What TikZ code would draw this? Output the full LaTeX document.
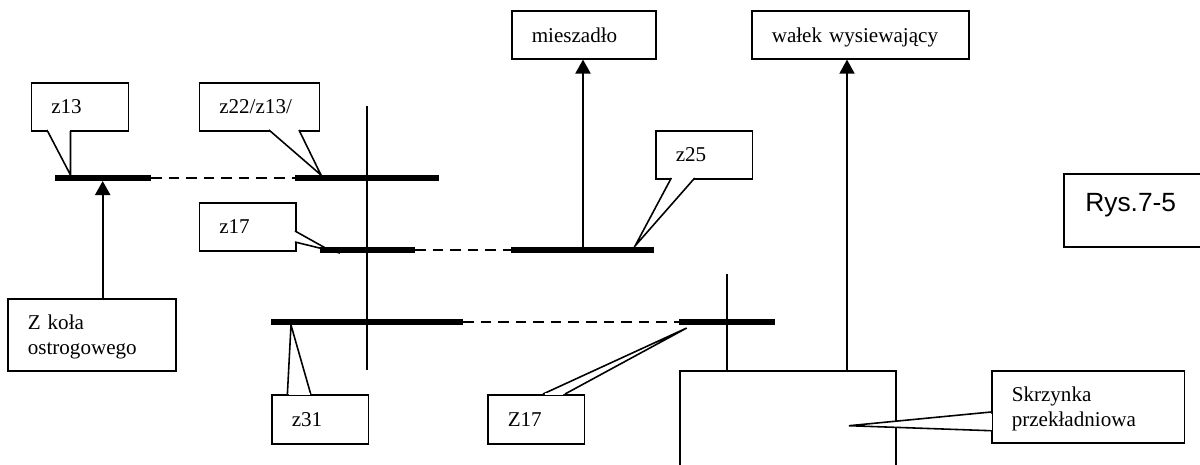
\documentclass[tikz,border=0pt]{standalone}
\usepackage{fontspec}
\usetikzlibrary{arrows.meta,positioning}
\setmainfont{Liberation Serif}
\newfontfamily\rysfont{Liberation Sans}

\tikzset{
	box/.style 2 args={draw, line width=0.9pt, anchor=north west, align=left, inner ysep=0pt, inner xsep=20*0.02cm,
		text width=(#1-40)*0.02cm, minimum height=#2*0.02cm, text depth=0pt, font=\fontsize{12}{14.2}\selectfont},
	wedge/.style={draw, fill=white, line width=0.9pt, line join=miter},
	opening/.style={white, line width=1.2pt},
	gear/.style={line width=3.6pt},
	shaft/.style={line width=0.9pt},
	link/.style={line width=0.9pt, dash pattern=on 6pt off 4pt},
	drive/.style={line width=1.2pt, -{Triangle[length=14*0.02cm, width=15*0.02cm]}},
}

\begin{document}
\begin{tikzpicture}[x=0.02cm, y=-0.02cm]
	\clip (0,0) rectangle (1200,464);

	% boxes
	\node[box={97}{48}] (z13) at (30.5,82) {z13};
	\node[box={120}{48}] (z22) at (198.5,82) {z22/z13/};
	\node[box={96.5}{48}] (z17) at (198.5,202) {z17};
	\node[box={96.5}{48}] (z25) at (655,130) {z25};
	\node[box={96.5}{49}] (z31) at (271,394) {z31};
	\node[box={96.5}{49}] (Z17) at (487,394) {Z17};
	\node[box={168}{72}, text depth=14.2pt] (zkola) at (7,298) {Z koła\\ostrogowego};
	\node[box={144}{48}] (mieszadlo) at (511,10) {mieszadło};
	\node[box={217}{48}] (walek) at (751,10) {wałek wysiewający};
	\node[box={192.5}{72}, text depth=14.2pt] (skrzynka) at (991,370) {Skrzynka\\przekładniowa};
	\node[box={160}{73}, inner xsep=21.5*0.02cm, text depth=9.2pt, font=\rysfont\fontsize{15}{16}\selectfont] (rys) at (1063,173) {Rys.7-5};
	\node[draw, line width=0.9pt, anchor=north west, inner sep=0pt, minimum width=216*0.02cm, minimum height=120*0.02cm] (przekladnia) at (679,370) {};

	% gear ends
	\coordinate (g1a) at (55,178);  \coordinate (g1b) at (151,178);
	\coordinate (g2a) at (295,178); \coordinate (g2b) at (439,178);
	\coordinate (g3a) at (319.5,250); \coordinate (g3b) at (415,250);
	\coordinate (g4a) at (511,250); \coordinate (g4b) at (654,250);
	\coordinate (g5a) at (271,322); \coordinate (g5b) at (463,322);
	\coordinate (g6a) at (679,322); \coordinate (g6b) at (775,322);

	\draw[link] (g1b) -- (g2a);
	\draw[link] (g3b) -- (g4a);
	\draw[link] (g5b) -- (g6a);

	% shafts
	\coordinate (s1a) at (367,106); \coordinate (s1b) at (367,370);
	\coordinate (s2a) at (727,274);
	\draw[shaft] (s1a) -- (s1b);
	\draw[shaft] (s2a) -- (przekladnia.north -| s2a);

	% arrows
	\coordinate (d1) at (102.7,181);
	\coordinate (d2) at (583,250);
	\coordinate (d3) at (847,370);
	\draw[drive] (zkola.north -| d1) -- (d1);
	\draw[drive] (d2) -- (mieszadlo.south -| d2);
	\draw[drive, line width=0.9pt] (d3) -- (walek.south -| d3);

	% callout wedges
	\draw[wedge] (47,130) -- (70.5,175) -- (70.5,130);
	\draw[wedge] (269,130) -- (321,175) -- (299,130);
	\draw[wedge] (295,231) -- (329,250) -- (340,253) -- (295,242);
	\draw[wedge] (671.3,178) -- (635,246) -- (694.7,178);
	\draw[wedge] (287.4,394) -- (291,325) -- (310.7,394);
	\draw[wedge] (543,394) -- (686.7,328) -- (565,394);
	\draw[wedge] (991,412) -- (849,425.7) -- (991,430.7);
	% open the box edges under the wedges
	\draw[opening] (48,130) -- (69.5,130);
	\draw[opening] (270.5,130) -- (297.5,130);
	\draw[opening] (295,232.5) -- (295,240.5);
	\draw[opening] (672.5,178) -- (693,178);
	\draw[opening] (288.5,394) -- (309.5,394);
	\draw[opening] (545,394) -- (563,394);
	\draw[opening] (991,413.5) -- (991,429.5);

	% gears
	\draw[gear] (g1a) -- (g1b);
	\draw[gear] (g2a) -- (g2b);
	\draw[gear] (g3a) -- (g3b);
	\draw[gear] (g4a) -- (g4b);
	\draw[gear] (g5a) -- (g5b);
	\draw[gear] (g6a) -- (g6b);
\end{tikzpicture}
\end{document}
